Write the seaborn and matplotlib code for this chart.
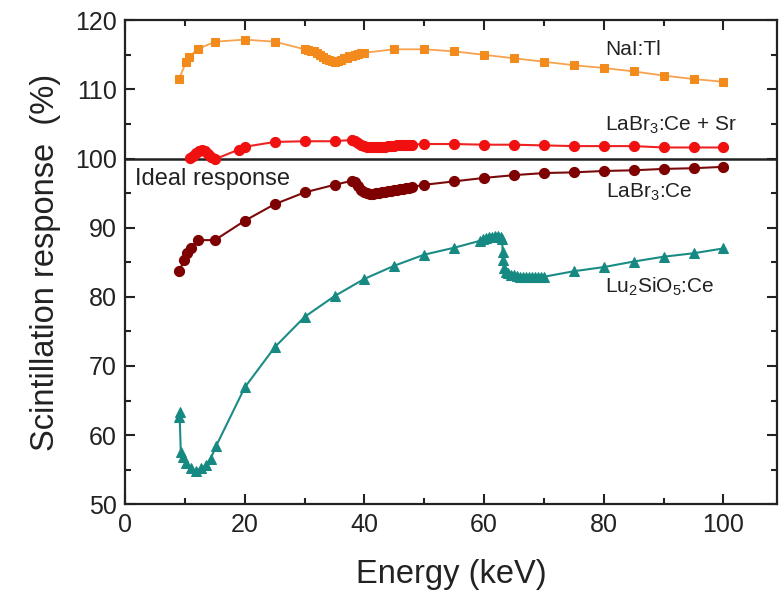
import matplotlib
matplotlib.use("Agg")
import matplotlib.pyplot as plt
import seaborn as sns
from matplotlib.ticker import MultipleLocator

# NaI:Tl (orange squares)
nai_x = [9.0, 10.2, 10.7, 12.1, 15, 20, 25, 30, 30.5, 31, 31.5, 32, 32.5, 33, 33.5, 34, 34.5,
         35, 35.5, 36, 36.5, 37, 37.5, 38, 38.5, 39, 39.5, 40, 45, 50, 55, 60, 65, 70, 75,
         80, 85, 90, 95, 100]
nai_y = [111.5, 114.0, 114.7, 115.8, 116.9, 117.2, 116.9, 115.8, 115.7, 115.6, 115.5, 115.3,
         115.0, 114.7, 114.4, 114.2, 114.1, 114.0, 114.1, 114.3, 114.5, 114.6, 114.8, 114.9,
         115.0, 115.1, 115.2, 115.3, 115.8, 115.8, 115.5, 115.0, 114.5, 114.0, 113.5, 113.1,
         112.6, 112.0, 111.5, 111.1]

# LaBr3:Ce + Sr (red circles)
sr_x = [10.8, 11.3, 11.8, 12.3, 12.8, 13.3, 13.8, 14.3, 15, 19, 20, 25, 30, 35, 38, 38.5, 39,
        39.5, 40, 40.5, 41, 41.5, 42, 42.5, 43, 43.5, 44, 44.5, 45, 45.5, 46, 46.5, 47, 47.5,
        48, 50, 55, 60, 65, 70, 75, 80, 85, 90, 95, 100]
sr_y = [100.1, 100.4, 100.8, 101.1, 101.3, 101.1, 100.6, 100.2, 99.9, 101.3, 101.7, 102.4,
        102.5, 102.5, 102.7, 102.6, 102.3, 102.0, 101.8, 101.7, 101.6, 101.6, 101.6, 101.6,
        101.7, 101.7, 101.8, 101.8, 101.8, 101.9, 101.9, 101.9, 101.9, 102.0, 102.0, 102.1,
        102.1, 102.0, 102.0, 101.9, 101.8, 101.8, 101.8, 101.6, 101.6, 101.6]

# LaBr3:Ce (dark red circles)
ce_x = [9.0, 9.9, 10.4, 11.0, 12.1, 15, 20, 25, 30, 35, 38, 38.5, 39, 39.5, 40, 40.5, 41, 41.5,
        42, 42.5, 43, 43.5, 44, 44.5, 45, 45.5, 46, 46.5, 47, 47.5, 48, 50, 55, 60, 65, 70,
        75, 80, 85, 90, 95, 100]
ce_y = [83.7, 85.3, 86.3, 87.0, 88.2, 88.2, 91.0, 93.4, 95.1, 96.2, 96.8, 96.6, 96.0, 95.5,
        95.2, 95.0, 94.9, 94.9, 95.0, 95.0, 95.1, 95.2, 95.3, 95.3, 95.4, 95.5, 95.6, 95.6,
        95.7, 95.8, 95.9, 96.2, 96.7, 97.2, 97.6, 97.9, 98.0, 98.2, 98.3, 98.5, 98.6, 98.8]

# Lu2SiO5:Ce (teal triangles)
lso_x = [9.0, 9.1, 9.3, 9.6, 10.2, 11.0, 11.8, 12.7, 13.5, 14.3, 15.2, 20, 25, 30, 35, 40, 45,
         50, 55, 59.3, 59.8, 60.3, 60.8, 61.3, 61.8, 62.3, 62.8, 63.0, 63.1, 63.2, 63.4, 63.7,
         64, 64.5, 65, 65.5, 66, 66.5, 67, 67.5, 68, 68.5, 69, 69.5, 70, 75, 80, 85, 90, 95, 100]
lso_y = [62.6, 63.3, 57.6, 56.8, 55.9, 55.2, 54.8, 55.2, 55.6, 56.6, 58.4, 66.9, 72.7, 77.1,
         80.1, 82.6, 84.5, 86.1, 87.1, 88.1, 88.3, 88.5, 88.6, 88.7, 88.8, 88.8, 88.7, 88.4,
         86.5, 85.3, 84.2, 83.6, 83.4, 83.2, 83.1, 83.0, 82.9, 82.9, 82.9, 82.9, 82.9, 82.9,
         82.9, 82.9, 82.9, 83.7, 84.3, 85.1, 85.8, 86.3, 87.0]

sns.set_style("ticks")
plt.rcParams['font.family'] = ['Liberation Sans', 'DejaVu Sans']
plt.rcParams['mathtext.fontset'] = 'custom'
plt.rcParams['mathtext.rm'] = 'Liberation Sans'

fig = plt.figure(figsize=(7.82, 5.96), dpi=100)
ax = fig.add_axes([0.160, 0.154, 0.834, 0.812])

ax.axhline(100, color="#222222", lw=1.8, zorder=1)

sns.lineplot(x=nai_x, y=nai_y, ax=ax, sort=False, color="#f7a24e", lw=1.3,
             marker="s", markersize=6.3, markerfacecolor="#f28b1c", markeredgecolor="#f28b1c")
sns.lineplot(x=sr_x, y=sr_y, ax=ax, sort=False, color="#ee2222", lw=1.5,
             marker="o", markersize=7.3, markerfacecolor="#f01010", markeredgecolor="#f01010")
sns.lineplot(x=ce_x, y=ce_y, ax=ax, sort=False, color="#7a0a0a", lw=1.5,
             marker="o", markersize=7.3, markerfacecolor="#7e0000", markeredgecolor="#7e0000")
sns.lineplot(x=lso_x, y=lso_y, ax=ax, sort=False, color="#1a8c86", lw=1.5,
             marker="^", markersize=7.3, markerfacecolor="#168a82", markeredgecolor="#168a82")

ax.set_xlim(0, 109)
ax.set_ylim(50, 120)
ax.xaxis.set_major_locator(MultipleLocator(20))
ax.xaxis.set_minor_locator(MultipleLocator(10))
ax.yaxis.set_major_locator(MultipleLocator(10))
ax.yaxis.set_minor_locator(MultipleLocator(5))
ax.tick_params(which="both", direction="in", top=True, right=True, width=1.5, colors="#222222")
ax.tick_params(which="major", length=7, labelsize=18, pad=6)
ax.tick_params(which="minor", length=4)
for s in ax.spines.values():
    s.set_linewidth(1.6)
    s.set_color("#222222")

ax.set_xlabel("Energy (keV)", fontsize=23.5, labelpad=16, color="#222222")
ax.set_ylabel("Scintillation response  (%)", fontsize=23.5, labelpad=10, color="#222222")

ax.text(1.6, 97.1, "Ideal response", fontsize=17, va="center", ha="left", color="#222222")
ax.text(80.2, 115.7, "NaI:Tl", fontsize=15, va="center", ha="left", color="#222222")
ax.text(80.2, 104.8, "LaBr$_3$:Ce + Sr", fontsize=15, va="center", ha="left", color="#222222")
ax.text(80.4, 95.1, "LaBr$_3$:Ce", fontsize=15, va="center", ha="left", color="#222222")
ax.text(80.2, 81.4, "Lu$_2$SiO$_5$:Ce", fontsize=15, va="center", ha="left", color="#222222")

fig.savefig("out.png", dpi=100)
